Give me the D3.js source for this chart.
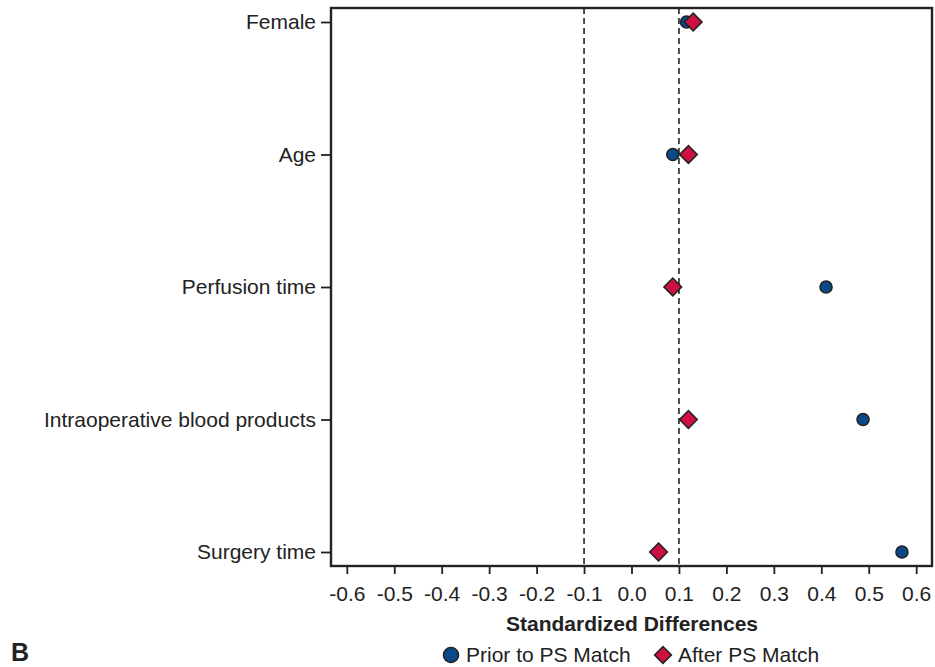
<!DOCTYPE html>
<html>
<head>
<meta charset="utf-8">
<script src="https://cdn.jsdelivr.net/npm/d3@7"></script>
<style>
  body { margin: 0; background: #fff; }
  svg text { font-family: "Liberation Sans", Arial, sans-serif; fill: #222; }
</style>
</head>
<body>
<svg width="935" height="667"></svg>
<script>
// DATA
var variables = ["Female", "Age", "Perfusion time", "Intraoperative blood products", "Surgery time"];
var priorMatch = [0.116, 0.087, 0.41, 0.488, 0.57];
var afterMatch = [0.13, 0.12, 0.087, 0.12, 0.057];
var xTicks = [-0.6, -0.5, -0.4, -0.3, -0.2, -0.1, 0.0, 0.1, 0.2, 0.3, 0.4, 0.5, 0.6];
var refLines = [-0.1, 0.1];

var svg = d3.select("svg");

var pLeft = 331, pRight = 932, pTop = 8, pBottom = 566;

var x = d3.scaleLinear().domain([-0.6333, 0.6333]).range([pLeft, pRight]);
var y = d3.scalePoint().domain(variables).range([22, 552]);

var dark = "#222";
var fmt = function (d) { return d3.format(".1f")(d).replace("\u2212", "-"); };

// reference lines
svg.selectAll(".ref")
    .data(refLines)
    .enter().append("line")
    .attr("x1", function (d) { return x(d); })
    .attr("x2", function (d) { return x(d); })
    .attr("y1", pTop)
    .attr("y2", pBottom)
    .attr("stroke", dark)
    .attr("stroke-width", 1.6)
    .attr("stroke-dasharray", "6,4");

// x axis
var xAxis = svg.append("g")
    .attr("transform", "translate(0," + pBottom + ")")
    .call(d3.axisBottom(x).tickValues(xTicks).tickSize(8).tickPadding(12).tickFormat(fmt));
xAxis.select(".domain").remove();
xAxis.selectAll("line").attr("stroke", dark).attr("stroke-width", 1.8);
xAxis.selectAll("text").attr("font-size", "21px").style("font-family", "Liberation Sans, Arial, sans-serif").attr("fill", dark);

// y axis
var yAxis = svg.append("g")
    .attr("transform", "translate(" + pLeft + ",0)")
    .call(d3.axisLeft(y).tickSize(10).tickPadding(5));
yAxis.select(".domain").remove();
yAxis.selectAll("line").attr("stroke", dark).attr("stroke-width", 1.8);
yAxis.selectAll("text").attr("font-size", "21px").style("font-family", "Liberation Sans, Arial, sans-serif").attr("fill", dark);

// frame
svg.append("rect")
    .attr("x", pLeft)
    .attr("y", pTop)
    .attr("width", pRight - pLeft)
    .attr("height", pBottom - pTop)
    .attr("fill", "none")
    .attr("stroke", dark)
    .attr("stroke-width", 2.4);

// points
svg.selectAll(".prior")
    .data(variables)
    .enter().append("circle")
    .attr("class", "prior")
    .attr("cx", function (d, i) { return x(priorMatch[i]); })
    .attr("cy", function (d) { return y(d); })
    .attr("r", 6)
    .attr("fill", "#0b4a88")
    .attr("stroke", dark)
    .attr("stroke-width", 1.6);

var diamond = d3.symbol().type(d3.symbolSquare).size(155);
svg.selectAll(".after")
    .data(variables)
    .enter().append("path")
    .attr("class", "after")
    .attr("d", diamond)
    .attr("transform", function (d, i) {
        return "translate(" + x(afterMatch[i]) + "," + y(d) + ") rotate(45)";
    })
    .attr("fill", "#cf1141")
    .attr("stroke", dark)
    .attr("stroke-width", 1.6);

// axis title
svg.append("text")
    .attr("x", 632)
    .attr("y", 631)
    .attr("text-anchor", "middle")
    .attr("font-size", "21px")
    .attr("font-weight", "bold")
    .text("Standardized Differences");

// legend
var lg = svg.append("g");
lg.append("circle")
    .attr("cx", 451).attr("cy", 655).attr("r", 7.5)
    .attr("fill", "#0b4a88").attr("stroke", dark).attr("stroke-width", 1.6);
lg.append("text")
    .attr("x", 466).attr("y", 662)
    .attr("font-size", "21px")
    .text("Prior to PS Match");
lg.append("path")
    .attr("d", d3.symbol().type(d3.symbolSquare).size(140))
    .attr("transform", "translate(663,655) rotate(45)")
    .attr("fill", "#cf1141").attr("stroke", dark).attr("stroke-width", 1.6);
lg.append("text")
    .attr("x", 678).attr("y", 662)
    .attr("font-size", "21px")
    .text("After PS Match");

// panel label
svg.append("text")
    .attr("x", 11)
    .attr("y", 661)
    .attr("font-size", "25px")
    .attr("font-weight", "bold")
    .text("B");
</script>
</body>
</html>
